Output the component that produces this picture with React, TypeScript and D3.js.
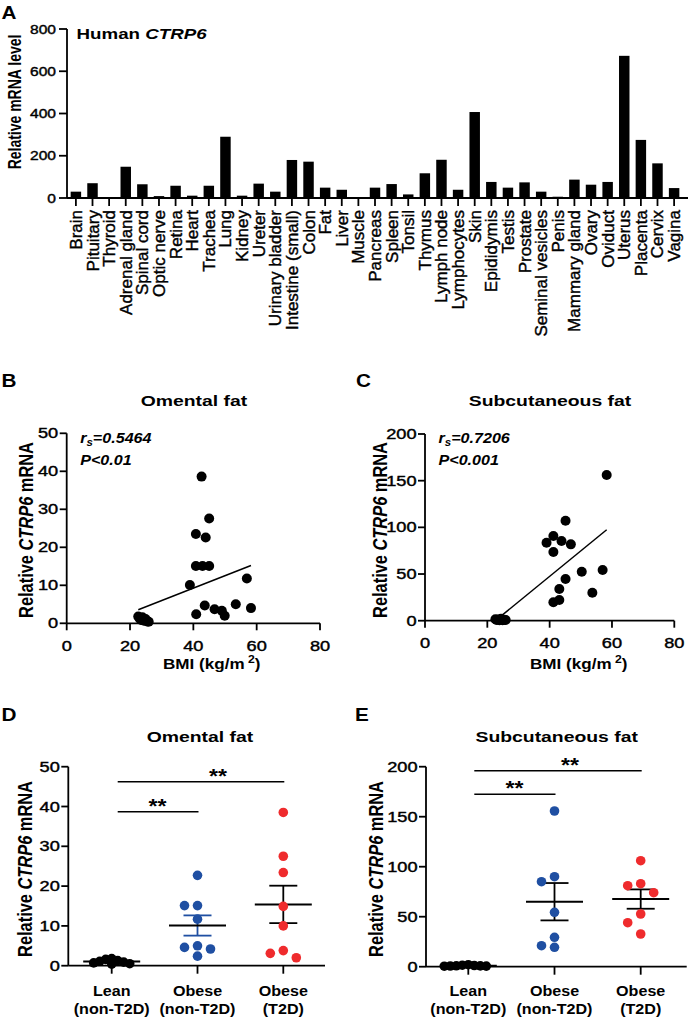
import React from 'react';
import * as d3 from 'd3';

const FONT = "'Liberation Sans', Arial, Helvetica, sans-serif";

// ---------- Panel A data ----------
const tissues = [
  'Brain', 'Pituitary', 'Thyroid', 'Adrenal gland', 'Spinal cord', 'Optic nerve', 'Retina', 'Heart',
  'Trachea', 'Lung', 'Kidney', 'Ureter', 'Urinary bladder', 'Intestine (small)', 'Colon', 'Fat',
  'Liver', 'Muscle', 'Pancreas', 'Spleen', 'Tonsil', 'Thymus', 'Lymph node', 'Lymphocytes', 'Skin',
  'Epididymis', 'Testis', 'Prostate', 'Seminal vesicles', 'Penis', 'Mammary gland', 'Ovary',
  'Oviduct', 'Uterus', 'Placenta', 'Cervix', 'Vagina',
];
const tissueExpr = [
  30, 70, 3, 148, 65, 9, 58, 11, 58, 290, 11, 68, 30, 180, 172, 49, 39, 0, 49, 66, 17, 117, 181, 39,
  407, 76, 49, 74, 30, 6, 87, 63, 76, 673, 275, 164, 47,
];
const ticksA = [0, 200, 400, 600, 800];

// ---------- Panels B / C data (BMI vs expression) ----------
const leanBMI = [22.6, 23.0, 23.5, 23.9, 24.4, 24.9, 25.4, 25.9];
const omentalLean = [1.8, 1.3, 0.9, 1.6, 0.7, 1.1, 0.5, 0.4];
const subcutLean = [1.5, 0.8, 1.2, 0.5, 2.0, 0.6, 0.9, 0.7];
const omentalObeseBMI = [42.6, 45.0, 40.8, 43.9, 40.8, 42.9, 45.0, 38.9, 56.9, 40.9, 43.6, 46.7, 49.0, 49.9, 53.4, 58.2];
const omentalObeseVal = [38.6, 27.6, 23.5, 22.6, 15.1, 15.1, 15.1, 10.1, 11.8, 2.4, 4.7, 3.7, 3.3, 2.0, 5.0, 4.0];
const subcutObeseBMI = [58.3, 45.1, 39.0, 41.2, 43.8, 46.8, 41.2, 50.3, 57.0, 45.1, 43.1, 41.2, 43.1, 53.7];
const subcutObeseVal = [156, 107, 83.5, 90.7, 85.3, 81.8, 73.5, 52.5, 54.3, 44.6, 34, 19.7, 22.2, 30];
const bmiTicks = [0, 20, 40, 60, 80];
const omentalTicks = [0, 10, 20, 30, 40, 50];
const subcutTicks = [0, 50, 100, 150, 200];

// ---------- Panels D / E data (groups) ----------
const groupTop = ['Lean', 'Obese', 'Obese'];
const groupBottom = ['(non-T2D)', '(non-T2D)', '(T2D)'];
const omentalNonT2D = [22.7, 15.1, 15.1, 11.7, 5.0, 4.6, 4.2, 2.4];
const omentalT2D = [38.5, 27.5, 23.4, 14.9, 10.0, 3.8, 3.1, 2.0];
const subcutNonT2D = [155.7, 90, 85, 54.4, 29.4, 21, 19.4];
const subcutT2D = [106, 83, 81, 74, 52.7, 44, 32.7];

const BLUE = '#1f4fa2';
const RED = '#ef2b2d';

type TP = {
  x: number; y: number; size: number; sx?: number; rot?: number; weight?: string;
  italic?: boolean; anchor?: string; children?: React.ReactNode;
};
function T({ x, y, size, sx = 1, rot = 0, weight = 'normal', italic = false, anchor = 'start', children }: TP) {
  const tr = `translate(${x},${y}) scale(${sx},1)` + (rot ? ` rotate(${rot})` : '');
  const thin = weight === 'normal';
  return (
    <text transform={tr} fontSize={size} fontWeight={weight} fontStyle={italic ? 'italic' : 'normal'}
      textAnchor={anchor as any} fontFamily={FONT} fill="#000"
      stroke={thin ? '#000' : 'none'} strokeWidth={thin ? 0.4 : 0}>{children}</text>
  );
}

function swarm(vals: number[], y: (v: number) => number, step: number, minDist: number) {
  const placed: { x: number; y: number }[] = [];
  const order = d3.range(vals.length).sort((a, b) => vals[b] - vals[a]);
  const xs: number[] = new Array(vals.length).fill(0);
  for (const i of order) {
    const py = y(vals[i]);
    for (let k = 0; k < 30; k++) {
      const off = k === 0 ? 0 : (k % 2 === 1 ? -1 : 1) * Math.ceil(k / 2) * step;
      if (placed.every((p) => Math.hypot(p.x - off, p.y - py) >= minDist)) {
        xs[i] = off; placed.push({ x: off, y: py }); break;
      }
    }
  }
  return xs;
}

const SW = 1.8;

function PanelA() {
  const x = d3.scaleBand<string>().domain(tissues).range([67, 683]).paddingInner(0.37).paddingOuter(0.22);
  const y = d3.scaleLinear().domain([0, 800]).range([198, 29]);
  return (
    <g>
      <T x={1.5} y={18.5} size={18.5} sx={1.12} weight="bold">A</T>
      <T x={76.5} y={38.5} size={15} sx={1.25} weight="bold">Human <tspan fontStyle="italic">CTRP6</tspan></T>
      {tissues.map((t, i) => (
        <rect key={t} x={x(t)} y={y(tissueExpr[i])} width={x.bandwidth()} height={y(0) - y(tissueExpr[i])} fill="#000" />
      ))}
      <line x1={67} x2={67} y1={y(800)} y2={y(0)} stroke="#000" strokeWidth={SW} />
      <line x1={67} x2={688} y1={y(0)} y2={y(0)} stroke="#000" strokeWidth={SW} />
      {ticksA.map((v) => (
        <g key={v}>
          <line x1={59} x2={67} y1={y(v)} y2={y(v)} stroke="#000" strokeWidth={SW} />
          <T x={56} y={y(v) + 4.7} size={13} sx={1.2} anchor="end">{v}</T>
        </g>
      ))}
      {tissues.map((t) => {
        const cx = (x(t) as number) + x.bandwidth() / 2;
        return (
          <g key={t}>
            <line x1={cx} x2={cx} y1={y(0)} y2={y(0) + 8} stroke="#000" strokeWidth={SW} />
            <T x={cx + 6} y={210} size={17} rot={-90} anchor="end">{t}</T>
          </g>
        );
      })}
      <T x={20.5} y={102} size={14} sx={1.25} rot={-90} anchor="middle" weight="bold">Relative mRNA level</T>
    </g>
  );
}

type ScatterProps = {
  letter: string; letterX: number; title: string; titleX: number;
  x0: number; x1: number; y0: number; y1: number; yMax: number; yTicks: number[];
  lean: number[]; obeseBMI: number[]; obeseVal: number[]; rs: string; p: string;
  labelX: number; bmiX: number;
};
function Scatter(pr: ScatterProps) {
  const x = d3.scaleLinear().domain([0, 80]).range([pr.x0, pr.x1]);
  const y = d3.scaleLinear().domain([0, pr.yMax]).range([pr.y0, pr.y1]);
  const bmi = [...leanBMI, ...pr.obeseBMI];
  const val = [...pr.lean, ...pr.obeseVal];
  const mx = d3.mean(bmi) as number;
  const my = d3.mean(val) as number;
  const sxy = d3.sum(bmi, (b, i) => (b - mx) * (val[i] - my));
  const sxx = d3.sum(bmi, (b) => (b - mx) * (b - mx));
  const slope = sxy / sxx;
  const icpt = my - slope * mx;
  const [bmin, bmax] = d3.extent(bmi) as [number, number];
  const line = d3.line<number>().x((b) => x(b)).y((b) => y(icpt + slope * b));
  return (
    <g>
      <T x={pr.letterX} y={387} size={18.5} sx={1.12} weight="bold">{pr.letter}</T>
      <T x={pr.titleX} y={406} size={15.5} sx={1.25} weight="bold" anchor="middle">{pr.title}</T>
      <line x1={pr.x0} x2={pr.x0} y1={pr.y1} y2={pr.y0} stroke="#000" strokeWidth={SW} />
      <line x1={pr.x0} x2={pr.x1} y1={pr.y0} y2={pr.y0} stroke="#000" strokeWidth={SW} />
      {pr.yTicks.map((v) => (
        <g key={v}>
          <line x1={pr.x0 - 7} x2={pr.x0} y1={y(v)} y2={y(v)} stroke="#000" strokeWidth={SW} />
          <T x={pr.x0 - 8.5} y={y(v) + 5} size={14} sx={1.3} anchor="end">{v}</T>
        </g>
      ))}
      {bmiTicks.map((v) => (
        <g key={v}>
          <line x1={x(v)} x2={x(v)} y1={pr.y0} y2={pr.y0 + 7} stroke="#000" strokeWidth={SW} />
          <T x={x(v)} y={pr.y0 + 27.5} size={14} sx={1.3} anchor="middle">{v}</T>
        </g>
      ))}
      <path d={line([bmin, bmax]) as string} stroke="#000" strokeWidth={1.5} fill="none" />
      {bmi.map((b, i) => (
        <circle key={i} cx={x(b)} cy={y(val[i])} r={5} fill="#000" />
      ))}
      <T x={pr.x0 + 13.5} y={443} size={14} sx={1.15} weight="bold" italic>
        r<tspan fontSize={10} dy={3}>s</tspan><tspan dy={-3}>{pr.rs}</tspan>
      </T>
      <T x={pr.x0 + 13.5} y={465} size={14} sx={1.15} weight="bold" italic>{pr.p}</T>
      <T x={pr.bmiX} y={669} size={14} sx={1.22} weight="bold">
        BMI (kg/m<tspan fontSize={10} dy={-6}> 2</tspan><tspan dy={6}>)</tspan>
      </T>
      <T x={pr.labelX} y={530} size={16.4} sx={1.2} rot={-90} anchor="middle" weight="bold">
        Relative <tspan fontStyle="italic">CTRP6</tspan> mRNA
      </T>
    </g>
  );
}

type DotProps = {
  letter: string; letterX: number; title: string; titleX: number;
  ax0: number; ax1: number; c0: number; c2: number; y0: number; y1: number; yMax: number; yTicks: number[];
  lean: number[]; nonT2D: number[]; t2d: number[]; blueErr: boolean; labelX: number;
  sigUpper: number; sigLower: number; starUpperX: number;
};
function DotPlot(pr: DotProps) {
  const y = d3.scaleLinear().domain([0, pr.yMax]).range([pr.y0, pr.y1]);
  const x = d3.scalePoint<number>().domain([0, 1, 2]).range([pr.c0, pr.c2]);
  const groups = [
    { vals: pr.lean, color: '#000', err: '#000', step: 6, minD: 5.5 },
    { vals: pr.nonT2D, color: BLUE, err: pr.blueErr ? BLUE : '#000', step: 13, minD: 9.5 },
    { vals: pr.t2d, color: RED, err: '#000', step: 13, minD: 9.5 },
  ];
  const star = (cx: number, ly: number) => (
    <T x={cx} y={ly + 1} size={21} sx={1.1} weight="bold" anchor="middle">**</T>
  );
  const cA = x(0) as number;
  const sUp = y(pr.sigUpper);
  const sLo = y(pr.sigLower);
  return (
    <g>
      <T x={pr.letterX} y={720.5} size={18.5} sx={1.12} weight="bold">{pr.letter}</T>
      <T x={pr.titleX} y={741.5} size={15.5} sx={1.25} weight="bold" anchor="middle">{pr.title}</T>
      <line x1={pr.ax0} x2={pr.ax0} y1={pr.y1} y2={pr.y0} stroke="#000" strokeWidth={SW} />
      <line x1={pr.ax0} x2={pr.ax1} y1={pr.y0} y2={pr.y0} stroke="#000" strokeWidth={SW} />
      {pr.yTicks.map((v) => (
        <g key={v}>
          <line x1={pr.ax0 - 7} x2={pr.ax0} y1={y(v)} y2={y(v)} stroke="#000" strokeWidth={SW} />
          <T x={pr.ax0 - 8.5} y={y(v) + 5} size={14} sx={1.3} anchor="end">{v}</T>
        </g>
      ))}
      {groups.map((g, gi) => {
        const cx = x(gi) as number;
        const m = d3.mean(g.vals) as number;
        const sem = (d3.deviation(g.vals) as number) / Math.sqrt(g.vals.length);
        const offs = swarm(g.vals, y, g.step, g.minD);
        return (
          <g key={gi}>
            <line x1={cx} x2={cx} y1={pr.y0} y2={pr.y0 + 8} stroke="#000" strokeWidth={SW} />
            <T x={cx} y={996} size={14} sx={1.15} weight="bold" anchor="middle">{groupTop[gi]}</T>
            <T x={cx} y={1014} size={14} sx={1.15} weight="bold" anchor="middle">{groupBottom[gi]}</T>
            <line x1={cx} x2={cx} y1={y(m - sem)} y2={y(m + sem)} stroke={g.err} strokeWidth={SW} />
            <line x1={cx - 14} x2={cx + 14} y1={y(m + sem)} y2={y(m + sem)} stroke={g.err} strokeWidth={SW} />
            <line x1={cx - 14} x2={cx + 14} y1={y(m - sem)} y2={y(m - sem)} stroke={g.err} strokeWidth={SW} />
            <line x1={cx - 28.5} x2={cx + 28.5} y1={y(m)} y2={y(m)} stroke="#000" strokeWidth={2} />
            {g.vals.map((v, i) => (
              <circle key={i} cx={cx + offs[i]} cy={y(v)} r={4.8} fill={g.color} />
            ))}
          </g>
        );
      })}
      <line x1={cA + 6} x2={(x(2) as number) + 1} y1={sUp} y2={sUp} stroke="#000" strokeWidth={1.5} />
      <line x1={cA + 6} x2={(x(1) as number) + 1} y1={sLo} y2={sLo} stroke="#000" strokeWidth={1.5} />
      {star(pr.starUpperX, sUp)}
      {star((cA + 6 + (x(1) as number)) / 2, sLo)}
      <T x={pr.labelX} y={869} size={16.4} sx={1.2} rot={-90} anchor="middle" weight="bold">
        Relative <tspan fontStyle="italic">CTRP6</tspan> mRNA
      </T>
    </g>
  );
}

export default function App() {
  return (
    <svg width={693} height={1019} viewBox="0 0 693 1019"
      style={{ position: 'absolute', left: 0, top: 0, background: '#fff' }}>
      <rect width={693} height={1019} fill="#fff" />
      <PanelA />
      <Scatter letter="B" letterX={1.5} title="Omental fat" titleX={194} x0={66.7} x1={320} y0={623.3} y1={433.3}
        yMax={50} yTicks={omentalTicks} lean={omentalLean} obeseBMI={omentalObeseBMI} obeseVal={omentalObeseVal}
        rs="=0.5464" p="P<0.01" labelX={33} bmiX={163} />
      <Scatter letter="C" letterX={356} title="Subcutaneous fat" titleX={550} x0={425} x1={674.3} y0={620.7} y1={434}
        yMax={200} yTicks={subcutTicks} lean={subcutLean} obeseBMI={subcutObeseBMI} obeseVal={subcutObeseVal}
        rs="=0.7206" p="P<0.001" labelX={386.5} bmiX={530} />
      <DotPlot letter="D" letterX={1.5} title="Omental fat" titleX={200} ax0={68.3} ax1={325} c0={111.7} c2={283.3}
        y0={965.7} y1={766.7} yMax={50} yTicks={omentalTicks} lean={omentalLean} nonT2D={omentalNonT2D}
        t2d={omentalT2D} blueErr={true} labelX={31.5} sigUpper={46.2} sigLower={38.7} starUpperX={218} />
      <DotPlot letter="E" letterX={355} title="Subcutaneous fat" titleX={556.7} ax0={426} ax1={686.7} c0={468.3}
        c2={640.7} y0={966.7} y1={766.7} yMax={200} yTicks={subcutTicks} lean={subcutLean} nonT2D={subcutNonT2D}
        t2d={subcutT2D} blueErr={false} labelX={383} sigUpper={196} sigLower={172.4} starUpperX={570} />
    </svg>
  );
}
